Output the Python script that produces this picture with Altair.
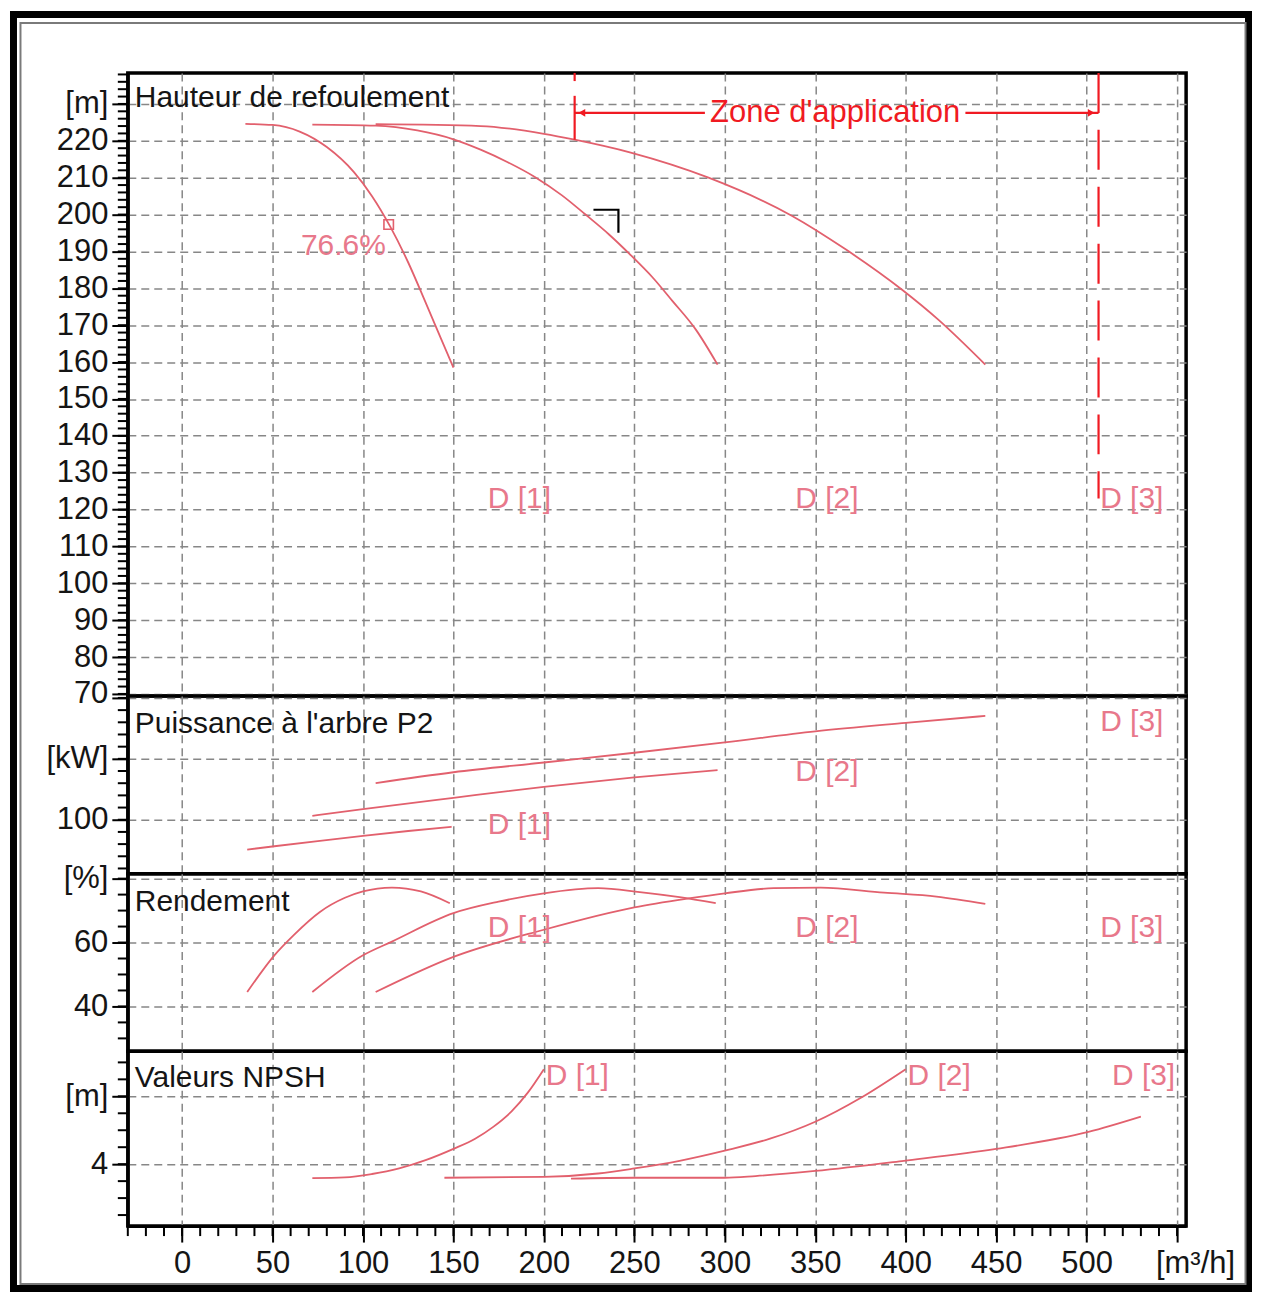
import altair as alt
import pandas as pd

FONT = "Liberation Sans, Arial, Helvetica, sans-serif"
CURVE = "#e2606d"
PINK = "#e8788b"
RED = "#f01a22"
GRID = "#878787"
INK = "#151515"

X_DOMAIN = [-30, 555]
X_TICKS = list(range(0, 551, 50))
X_MINOR = list(range(-30, 551, 10))
CURVE_NAMES = ["D [1]", "D [2]", "D [3]"]

# ---- Hauteur de refoulement [m]
head_d1_q = [35, 50, 65, 80, 95, 105, 115, 125, 135, 143, 150]
head_d1_v = [224.6, 224.3, 222.5, 218.3, 211.5, 205.0, 196.8, 187.0, 175.7, 166.5, 158.5]
head_d2_q = [72, 107, 130, 150, 165, 180, 195, 210, 223, 236, 248, 260, 271, 284, 296]
head_d2_v = [224.4, 224.1, 222.8, 220.4, 217.6, 214.2, 210.2, 205.2, 200.0, 194.6, 189.0, 183.0, 176.6, 168.8, 159.3]
head_d3_q = [107, 165, 200, 217, 248, 291, 337, 367, 398, 418, 444]
head_d3_v = [224.5, 224.0, 221.9, 220.3, 216.8, 210.0, 199.7, 190.5, 179.6, 171.5, 159.3]

# ---- Puissance à l'arbre P2 [kW]
pow_d1_q = [36, 51, 75, 100, 125, 149]
pow_d1_v = [51.0, 56.5, 65.0, 73.5, 81.5, 88.5]
pow_d2_q = [72, 100, 150, 200, 250, 296]
pow_d2_v = [106.5, 117.5, 136.0, 154.0, 169.5, 181.5]
pow_d3_q = [107, 150, 200, 250, 300, 350, 400, 444]
pow_d3_v = [160.0, 178.0, 194.0, 210.0, 227.0, 245.0, 259.0, 270.5]

# ---- Rendement [%]
eff_d1_q = [36, 51, 62, 76, 90, 100, 116, 132, 148]
eff_d1_v = [44.5, 56.0, 62.5, 69.5, 74.0, 76.0, 77.2, 76.0, 72.3]
eff_d2_q = [72, 100, 116, 150, 175, 200, 230, 253, 275, 295]
eff_d2_v = [44.5, 56.0, 60.3, 69.2, 72.8, 75.4, 77.0, 75.8, 74.2, 72.3]
eff_d3_q = [107, 150, 200, 250, 280, 300, 327, 353, 388, 417, 444]
eff_d3_v = [44.5, 55.5, 64.0, 71.0, 73.8, 75.4, 77.0, 77.2, 75.6, 74.4, 72.1]

# ---- Valeurs NPSH [m]
npsh_d1_q = [72, 90, 105, 120, 135, 150, 162, 172, 182, 191, 200]
npsh_d1_v = [3.18, 3.22, 3.42, 3.75, 4.25, 4.9, 5.5, 6.2, 7.1, 8.2, 9.6]
npsh_d2_q = [145, 200, 230, 250, 275, 300, 325, 350, 375, 400]
npsh_d2_v = [3.2, 3.25, 3.45, 3.75, 4.2, 4.8, 5.5, 6.5, 7.9, 9.6]
npsh_d3_q = [215, 250, 300, 317, 350, 399, 450, 501, 530]
npsh_d3_v = [3.15, 3.2, 3.2, 3.3, 3.6, 4.2, 4.9, 5.9, 6.8]

# ---- curve name labels (left edge of text)
lab_head_q = [169, 339, 507.5]
lab_head_v = [122.8, 122.8, 122.8]
lab_pow_q = [169, 339, 507.5]
lab_pow_v = [91.8, 178.7, 260.7]
lab_eff_q = [169, 339, 507.5]
lab_eff_v = [64.4, 64.4, 64.4]
lab_npsh_q = [201, 401, 514]
lab_npsh_v = [9.18, 9.18, 9.18]

# ---- application zone / annotations (head panel)
zone_left_q = [217, 217]
zone_left_top = [238.4, 232.2]
zone_left_bot = [236.2, 220.3]
zone_right_q = [506.6]
zone_right_top = [238.4]
zone_right_bot = [123.0]
zone_arrow_q = [217, 433]
zone_arrow_q2 = [289, 506.6]
zone_arrow_v = [227.6, 227.6]
zone_head_q = [221, 502.5]
zone_head_shape = ["triangle-left", "triangle-right"]
zone_text_q = [361]
zone_text_v = [227.6]
bep_q = [114.2]
bep_v = [197.3]
bep_label_q = [112.6]
bep_label_v = [191.6]
bep_label = ["76.6%"]
duty_q = [227.4, 241.2, 241.2]
duty_v = [201.3, 201.3, 195.1]


def curves(qs_list, vs_list):
    frames = []
    for name, qs, vs in zip(CURVE_NAMES, qs_list, vs_list):
        frames.append(pd.DataFrame({"curve": name, "i": list(range(len(qs))), "q": qs, "v": vs}))
    return pd.concat(frames, ignore_index=True)


def xenc(bottom):
    scale = alt.Scale(domain=X_DOMAIN, nice=False, zero=False)
    if bottom:
        axis = alt.Axis(
            values=X_TICKS,
            labelExpr="datum.value == 550 ? '[m³/h]' : datum.value",
            labelOffset={"condition": {"test": "datum.value == 550", "value": 18}, "value": 0},
            tickSize=16, tickWidth=2, tickColor="black",
            domainColor="black", domainWidth=3,
            labelFont=FONT, labelFontSize=31, labelColor=INK, labelPadding=6,
            labelFlush=False, labelOverlap=False,
            grid=True, gridColor=GRID, gridDash=[8, 5], gridWidth=1.5, title=None,
        )
    else:
        axis = alt.Axis(
            values=X_TICKS, labels=False, ticks=False, domain=False,
            grid=True, gridColor=GRID, gridDash=[8, 5], gridWidth=1.5, title=None,
        )
    return alt.X("q:Q", scale=scale, axis=axis)


def yaxis(values, label_expr):
    return alt.Axis(
        values=values, labelExpr=label_expr,
        tickSize=16, tickWidth=2, tickColor="black",
        domainColor="black", domainWidth=3,
        labelFont=FONT, labelFontSize=31, labelColor=INK, labelPadding=4,
        labelFlush=False, labelOverlap=False,
        grid=True, gridColor=GRID, gridDash=[8, 5], gridWidth=1.5, title=None,
    )


def panel(df, y_domain, y_axis, y_minor, height, title, title_y, lab_q, lab_v,
          bottom=False, extra=None):
    yscale = alt.Scale(domain=y_domain, nice=False, zero=False)
    Y = lambda f: alt.Y(f, scale=yscale, axis=y_axis)
    X = xenc(bottom)

    lines = alt.Chart(df).mark_line(color=CURVE, strokeWidth=1.8, interpolate="monotone").encode(
        x=X, y=Y("v:Q"), detail="curve:N", order="i:Q"
    )
    minor_y = alt.Chart(pd.DataFrame({"v": y_minor})).mark_rule(color="black", strokeWidth=2).encode(
        y=Y("v:Q"), x=alt.value(-10), x2=alt.value(0)
    )
    labels = alt.Chart(pd.DataFrame({"q": lab_q, "v": lab_v, "label": CURVE_NAMES})).mark_text(
        align="left", baseline="middle", font=FONT, fontSize=30, color=PINK
    ).encode(x=X, y=Y("v:Q"), text="label:N")
    ttl = alt.Chart(pd.DataFrame({"k": [0]})).mark_text(
        align="left", baseline="middle", font=FONT, fontSize=30, color=INK
    ).encode(x=alt.value(7), y=alt.value(title_y), text=alt.value(title))

    layers = [lines, minor_y, labels, ttl]
    if bottom:
        minor_x = alt.Chart(pd.DataFrame({"q": X_MINOR})).mark_rule(color="black", strokeWidth=2).encode(
            x=X, y=alt.value(height), y2=alt.value(height + 10)
        )
        layers.append(minor_x)
    if extra is not None:
        layers.extend(extra(X, Y))
    return alt.layer(*layers).properties(width=1060, height=height)


def head_extra(X, Y):
    left = alt.Chart(pd.DataFrame({"q": zone_left_q, "v": zone_left_top, "v2": zone_left_bot})).mark_rule(
        color=RED, strokeWidth=2.2).encode(x=X, y=Y("v:Q"), y2="v2:Q")
    right = alt.Chart(pd.DataFrame({"q": zone_right_q, "v": zone_right_top, "v2": zone_right_bot})).mark_rule(
        color=RED, strokeWidth=2.2, strokeDash=[40, 17]).encode(x=X, y=Y("v:Q"), y2="v2:Q")
    arrow = alt.Chart(pd.DataFrame({"q": zone_arrow_q, "q2": zone_arrow_q2, "v": zone_arrow_v})).mark_rule(
        color=RED, strokeWidth=2.2).encode(x=X, x2="q2:Q", y=Y("v:Q"))
    heads = alt.Chart(pd.DataFrame({"q": zone_head_q, "v": zone_arrow_v, "s": zone_head_shape})).mark_point(
        filled=True, color=RED, size=60, opacity=1).encode(x=X, y=Y("v:Q"), shape=alt.Shape("s:N", scale=None))
    ztext = alt.Chart(pd.DataFrame({"q": zone_text_q, "v": zone_text_v, "t": ["Zone d'application"]})).mark_text(
        align="center", baseline="middle", font=FONT, fontSize=31, color=RED).encode(x=X, y=Y("v:Q"), text="t:N")
    bep = alt.Chart(pd.DataFrame({"q": bep_q, "v": bep_v})).mark_point(
        shape="square", filled=False, color=CURVE, size=90, strokeWidth=1.6, opacity=1).encode(x=X, y=Y("v:Q"))
    bep_t = alt.Chart(pd.DataFrame({"q": bep_label_q, "v": bep_label_v, "t": bep_label})).mark_text(
        align="right", baseline="middle", font=FONT, fontSize=30, color=PINK).encode(x=X, y=Y("v:Q"), text="t:N")
    duty = alt.Chart(pd.DataFrame({"q": duty_q, "v": duty_v, "i": [0, 1, 2]})).mark_line(
        color="black", strokeWidth=2.2).encode(x=X, y=Y("v:Q"), order="i:Q")
    frame = alt.Chart(pd.DataFrame({"k": [0]})).mark_rect(
        fillOpacity=0, stroke="black", strokeWidth=7).encode(
        x=alt.value(-114.5), x2=alt.value(1122.5), y=alt.value(-58.5), y2=alt.value(1217.5))
    inner = alt.Chart(pd.DataFrame({"k": [0]})).mark_rect(
        fillOpacity=0, stroke="#7a7a7a", strokeWidth=2).encode(
        x=alt.value(-107.5), x2=alt.value(1119.5), y=alt.value(-50), y2=alt.value(1213))
    return [left, right, arrow, heads, ztext, bep, bep_t, duty, frame, inner]


head = panel(
    curves([head_d1_q, head_d2_q, head_d3_q], [head_d1_v, head_d2_v, head_d3_v]),
    [69.46, 238.41],
    yaxis(list(range(70, 231, 10)), "datum.value == 230 ? '[m]' : datum.value"),
    list(range(70, 239, 2)), 624, "Hauteur de refoulement", 25,
    lab_head_q, lab_head_v, extra=head_extra,
)
power = panel(
    curves([pow_d1_q, pow_d2_q, pow_d3_q], [pow_d1_v, pow_d2_v, pow_d3_v]),
    [11.5, 303.3],
    yaxis([100, 200, 300], "datum.value == 200 ? '[kW]' : (datum.value == 300 ? '' : datum.value)"),
    list(range(20, 301, 20)), 178, "Puissance à l'arbre P2", 28,
    lab_pow_q, lab_pow_v,
)
eff = panel(
    curves([eff_d1_q, eff_d2_q, eff_d3_q], [eff_d1_v, eff_d2_v, eff_d3_v]),
    [25.94, 81.56],
    yaxis([40, 60, 80], "datum.value == 80 ? '[%]' : datum.value"),
    list(range(30, 81, 5)), 178, "Rendement", 28,
    lab_eff_q, lab_eff_v,
)
npsh = panel(
    curves([npsh_d1_q, npsh_d2_q, npsh_d3_q], [npsh_d1_v, npsh_d2_v, npsh_d3_v]),
    [0.35, 10.65],
    yaxis([4, 8], "datum.value == 8 ? '[m]' : datum.value"),
    list(range(1, 11, 1)), 175, "Valeurs NPSH", 27,
    lab_npsh_q, lab_npsh_v, bottom=True,
)

chart = alt.vconcat(head, power, eff, npsh, spacing=0, bounds="flush").properties(
    padding=0, background="white"
).configure_view(stroke="black", strokeWidth=3.5)

chart.save("out.html", embed_options={"renderer": "svg", "actions": False})
